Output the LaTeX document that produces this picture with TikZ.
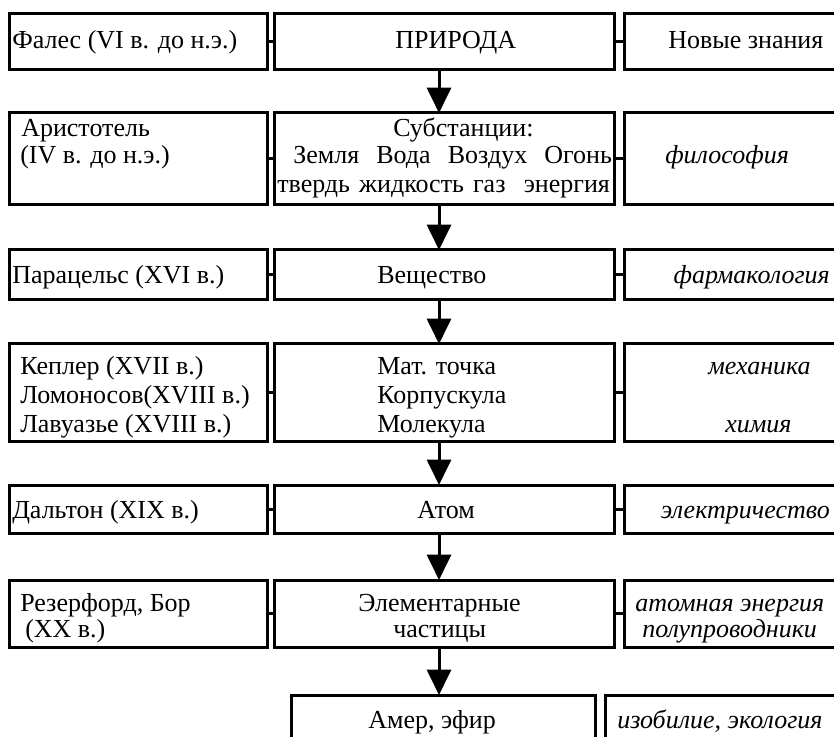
\documentclass[tikz,border=0pt]{standalone}
\usepackage{fontspec}
\setmainfont{Liberation Serif}
\usetikzlibrary{arrows.meta,fit}
\begin{document}
\begin{tikzpicture}[x=0.75pt,y=-0.75pt,
  box/.style={draw, line width=2.25pt, inner sep=0pt, outer sep=0pt},
  txt/.style={anchor=base west, inner sep=0pt, font=\fontsize{19.5pt}{22pt}\selectfont},
  itxt/.style={txt, font=\fontsize{19.5pt}{22pt}\selectfont\itshape},
  link/.style={line width=2.25pt},
  arr/.style={line width=2.25pt, -{Triangle[width=18pt,length=19pt]}}]
\clip (0,0) rectangle (834,737);
% box corners
\foreach \r/\ya/\yb in {1/13.5/70, 2/113/205, 3/250/300, 4/344/441, 5/485/533, 6/580/647}{
  \coordinate (L\r a) at (9.5,\ya); \coordinate (L\r b) at (267.5,\yb);
  \coordinate (M\r a) at (274.5,\ya); \coordinate (M\r b) at (614,\yb);
  \coordinate (R\r a) at (624,\ya); \coordinate (R\r b) at (870,\yb);
}
\coordinate (M7a) at (291,695); \coordinate (M7b) at (595,770);
\coordinate (R7a) at (605,695); \coordinate (R7b) at (870,770);
\foreach \r in {1,...,6}{
  \node[box, fit=(L\r a)(L\r b)] (L\r) {};
  \node[box, fit=(M\r a)(M\r b)] (M\r) {};
  \node[box, fit=(R\r a)(R\r b)] (R\r) {};
  \draw[link] (L\r.east) -- (M\r.west);
  \draw[link] (M\r.east) -- (R\r.west);
}
\node[box, fit=(M7a)(M7b)] (M7) {};
\node[box, fit=(R7a)(R7b)] (R7) {};
\coordinate (ax) at (439,0);
\foreach \a/\b in {1/2,2/3,3/4,4/5,5/6,6/7}{
  \draw[arr] (M\a.south -| ax) -- (M\b.north -| ax);
}
% texts row 1
\node[txt] (t1a) at (12,49) {Фалес (VI в. до н.э.)};
\node[txt] (t1b) at (395,49) {ПРИРОДА};
\node[txt] (t1c) at (668,49) {Новые знания};
% row 2
\node[txt] (t2a) at (21,137) {Аристотель};
\node[txt] (t2b) at (20,164) {(IV в. до н.э.)};
\node[txt] (t2c) at (393,137) {Субстанции:};
\node[txt] (t2d) at (293,164) {\makebox[239pt][s]{Земля\ \ Вода\ \ Воздух\ \ Огонь}};
\node[txt] (t2e) at (277,193) {\makebox[249.5pt][s]{твердь жидкость газ\ \ энергия}};
\node[itxt] (t2f) at (665,164) {философия};
% row 3
\node[txt] (t3a) at (12,284) {Парацельс (XVI в.)};
\node[txt] (t3b) at (377,284) {Вещество};
\node[itxt, anchor=base east] (t3c) at (830,284) {фармакология};
% row 4
\node[txt] (t4a) at (20,374) {Кеплер (XVII в.)};
\node[txt] (t4b) at (20,403) {Ломоносов(XVIII в.)};
\node[txt] (t4c) at (20,432) {Лавуазье (XVIII в.)};
\node[txt] (t4d) at (377,374) {Мат. точка};
\node[txt] (t4e) at (377,403) {Корпускула};
\node[txt] (t4f) at (377,432) {Молекула};
\node[itxt] (t4g) at (708,374) {механика};
\node[itxt] (t4h) at (725,432) {химия};
% row 5
\node[txt] (t5a) at (12,518) {Дальтон (XIX в.)};
\node[txt] (t5b) at (417,518) {Атом};
\node[itxt, anchor=base east] (t5c) at (830,518) {электричество};
% row 6
\node[txt] (t6a) at (20,611) {Резерфорд, Бор};
\node[txt] (t6b) at (25,637) {(XX в.)};
\node[txt] (t6c) at (358,611) {Элементарные};
\node[txt] (t6d) at (393,637) {частицы};
\node[itxt] (t6e) at (635,611) {атомная энергия};
\node[itxt] (t6f) at (642,637) {полупроводники};
% row 7
\node[txt] (t7a) at (368,728) {Амер, эфир};
\node[itxt] (t7b) at (617,728) {изобилие, экология};
\end{tikzpicture}
\end{document}
